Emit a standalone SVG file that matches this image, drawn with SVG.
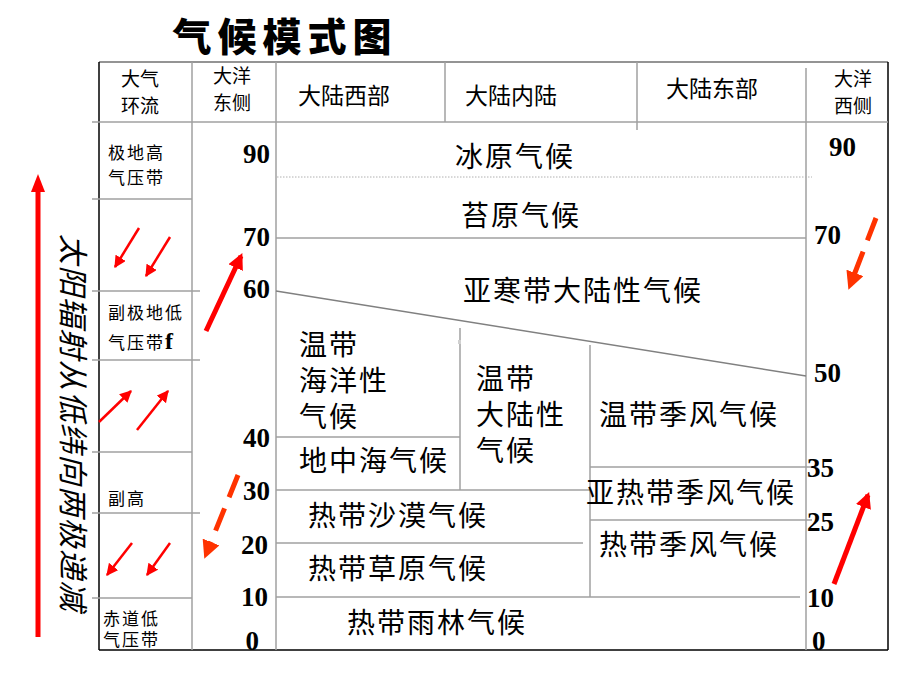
<svg xmlns="http://www.w3.org/2000/svg" width="920" height="690" viewBox="0 0 920 690">
<style>
.g{stroke:#a0a0a0;stroke-width:1.5;fill:none}
.k{stroke:#000;stroke-width:1.5;fill:none}
.t{font-family:"Noto Sans CJK SC","Noto Sans CJK JP",sans-serif;fill:#000}
.h{font-size:19px}
.s{font-size:17px;letter-spacing:2px}
.m{font-size:28px;letter-spacing:2px}
.n{font-family:"Liberation Serif","Times New Roman",serif;font-weight:bold;font-size:27px;fill:#000}
.ar{stroke:#ff0000;stroke-width:2.5;fill:none}
.dr{stroke:#ff3300;stroke-width:5;fill:none;stroke-dasharray:24 12}
</style>
<defs>
<marker id="hd" markerUnits="userSpaceOnUse" markerWidth="12" markerHeight="12" refX="9" refY="5" orient="auto" viewBox="0 0 10 10"><path d="M0,0 L10,5 L0,10 z" fill="#ff0000"/></marker>
<marker id="hdL" markerUnits="userSpaceOnUse" markerWidth="16" markerHeight="16" refX="8" refY="5" orient="auto" viewBox="0 0 10 10"><path d="M0,0 L10,5 L0,10 z" fill="#ff0000"/></marker>
<marker id="hdO" markerUnits="userSpaceOnUse" markerWidth="18" markerHeight="18" refX="6" refY="5" orient="auto" viewBox="0 0 10 10"><path d="M0,0 L10,5 L0,10 z" fill="#ff3300"/></marker>
</defs>
<rect width="920" height="690" fill="#fff"/>

<g id="title"><text x="285" y="51" text-anchor="middle" class="t" style="font-size:39px;font-weight:900;letter-spacing:6px">气候模式图</text></g>

<g id="grid">
<line class="g" x1="99" y1="62" x2="888" y2="62" style="stroke:#707070"/>
<line class="k" x1="99" y1="62" x2="99" y2="650"/>
<line class="k" x1="888" y1="62" x2="888" y2="650"/>
<line class="k" x1="99" y1="650" x2="888" y2="650"/>
<line class="g" x1="92" y1="122" x2="888" y2="122"/>
<line class="g" x1="192" y1="62" x2="192" y2="650"/>
<line class="g" x1="276" y1="62" x2="276" y2="650"/>
<line class="g" x1="445" y1="62" x2="445" y2="122"/>
<line class="g" x1="637" y1="62" x2="637" y2="130"/>
<line class="g" x1="806" y1="68" x2="806" y2="650"/>
<line class="g" x1="92" y1="199" x2="192" y2="199"/>
<line class="g" x1="92" y1="291" x2="200" y2="291"/>
<line class="g" x1="92" y1="360" x2="200" y2="360"/>
<line class="g" x1="92" y1="452" x2="192" y2="452"/>
<line class="g" x1="92" y1="513" x2="200" y2="513"/>
<line class="g" x1="92" y1="598" x2="192" y2="598"/>
<line x1="277" y1="177" x2="812" y2="177" stroke="#b0b0b0" stroke-width="1" stroke-dasharray="1.5 1.5"/>
<line class="g" x1="276" y1="238" x2="806" y2="238"/>
<line class="g" x1="276" y1="291" x2="806" y2="376" style="stroke:#808080"/>
<line class="g" x1="460" y1="328" x2="460" y2="490"/>
<rect x="458" y="340" width="3" height="4" fill="#d0d0d0"/>
<line class="g" x1="590" y1="345" x2="590" y2="597"/>
<line class="g" x1="276" y1="437" x2="460" y2="437"/>
<line class="g" x1="276" y1="490" x2="590" y2="490"/>
<line class="g" x1="590" y1="467" x2="812" y2="467"/>
<line class="g" x1="590" y1="520" x2="812" y2="520"/>
<line class="g" x1="276" y1="543" x2="583" y2="543"/>
<line class="g" x1="276" y1="597" x2="800" y2="597"/>
</g>

<g id="header">
<g id="h-atm"><text class="t h" x="140" y="86" text-anchor="middle">大气</text><text class="t h" x="140" y="113" text-anchor="middle">环流</text></g>
<g id="h-oe"><text class="t h" x="232" y="83" text-anchor="middle">大洋</text><text class="t h" x="232" y="110" text-anchor="middle">东侧</text></g>
<g id="h-w"><text class="t" style="font-size:23px" x="344" y="104" text-anchor="middle">大陆西部</text></g>
<g id="h-i"><text class="t" style="font-size:23px" x="511" y="104" text-anchor="middle">大陆内陆</text></g>
<g id="h-e"><text class="t" style="font-size:23px" x="712" y="97" text-anchor="middle">大陆东部</text></g>
<g id="h-ow"><text class="t h" x="853" y="86" text-anchor="middle">大洋</text><text class="t h" x="853" y="113" text-anchor="middle">西侧</text></g>
</g>

<g id="belts">
<g id="polar-high"><text class="t s" x="108" y="159">极地高</text><text class="t s" x="108" y="184">气压带</text></g>
<g id="subpolar-low"><text class="t s" x="108" y="319">副极地低</text><text class="t s" x="108" y="349">气压带<tspan style="font-family:'Liberation Serif',serif;font-weight:bold;font-size:24px">f</tspan></text></g>
<g id="subtropical-high"><text class="t s" x="108" y="505">副高</text></g>
<g id="equatorial-low"><text class="t s" x="103" y="625">赤道低</text><text class="t s" x="103" y="646">气压带</text></g>
</g>

<g id="climates">
<g id="ice"><text class="t m" x="515" y="167" text-anchor="middle">冰原气候</text></g>
<g id="tundra"><text class="t m" x="521" y="226" text-anchor="middle">苔原气候</text></g>
<g id="subarctic"><text class="t m" x="583" y="301" text-anchor="middle">亚寒带大陆性气候</text></g>
<g id="temp-maritime"><text class="t m" x="299" y="355">温带</text><text class="t m" x="299" y="391">海洋性</text><text class="t m" x="299" y="427">气候</text></g>
<g id="mediterranean"><text class="t m" x="299" y="471">地中海气候</text></g>
<g id="temp-continental"><text class="t m" x="476" y="389">温带</text><text class="t m" x="476" y="425">大陆性</text><text class="t m" x="476" y="461">气候</text></g>
<g id="temp-monsoon"><text class="t m" x="599" y="425">温带季风气候</text></g>
<g id="subtrop-monsoon"><text class="t m" x="586" y="503">亚热带季风气候</text></g>
<g id="trop-monsoon"><text class="t m" x="599" y="555">热带季风气候</text></g>
<g id="desert"><text class="t m" x="308" y="526">热带沙漠气候</text></g>
<g id="savanna"><text class="t m" x="308" y="579">热带草原气候</text></g>
<g id="rainforest"><text class="t m" x="347" y="633">热带雨林气候</text></g>
</g>

<g id="latitudes-left">
<text class="n" x="270" y="163" text-anchor="end">90</text>
<text class="n" x="270" y="246" text-anchor="end">70</text>
<text class="n" x="270" y="298" text-anchor="end">60</text>
<text class="n" x="270" y="447" text-anchor="end">40</text>
<text class="n" x="270" y="500" text-anchor="end">30</text>
<text class="n" x="268" y="554" text-anchor="end">20</text>
<text class="n" x="268" y="606" text-anchor="end">10</text>
<text class="n" x="259" y="650" text-anchor="end">0</text>
</g>
<g id="latitudes-right">
<text class="n" x="829" y="156">90</text>
<text class="n" x="814" y="244">70</text>
<text class="n" x="814" y="382">50</text>
<text class="n" x="807" y="477">35</text>
<text class="n" x="807" y="531">25</text>
<text class="n" x="807" y="607">10</text>
<text class="n" x="812" y="650">0</text>
</g>

<g id="side-label">
<line x1="38" y1="637" x2="38" y2="190" stroke="#ff0000" stroke-width="5"/>
<path d="M31,192 L38,174 L45,192 z" fill="#ff0000"/>
<text class="t" transform="translate(75,234) rotate(90)" dominant-baseline="central" style="font-size:30px;letter-spacing:1.5px;font-style:italic">太阳辐射从低纬向两极递减</text>
</g>

<g id="connectors">
<line class="ar" x1="139" y1="228" x2="115" y2="267" marker-end="url(#hd)"/>
<line class="ar" x1="170" y1="237" x2="146" y2="276" marker-end="url(#hd)"/>
<line class="ar" x1="99" y1="422" x2="131" y2="391" marker-end="url(#hd)"/>
<line class="ar" x1="137" y1="430" x2="168" y2="391" marker-end="url(#hd)"/>
<line class="ar" x1="132" y1="543" x2="107" y2="575" marker-end="url(#hd)"/>
<line class="ar" x1="170" y1="543" x2="147" y2="575" marker-end="url(#hd)"/>
<line x1="206" y1="331" x2="241" y2="256" stroke="#ff0000" stroke-width="5" marker-end="url(#hdL)"/>
<line class="dr" x1="238" y1="475" x2="207" y2="552" marker-end="url(#hdO)"/>
<line class="dr" x1="876" y1="218" x2="851" y2="283" marker-end="url(#hdO)"/>
<line x1="834" y1="584" x2="868" y2="495" stroke="#ff0000" stroke-width="5" marker-end="url(#hdL)"/>
</g>
</svg>
